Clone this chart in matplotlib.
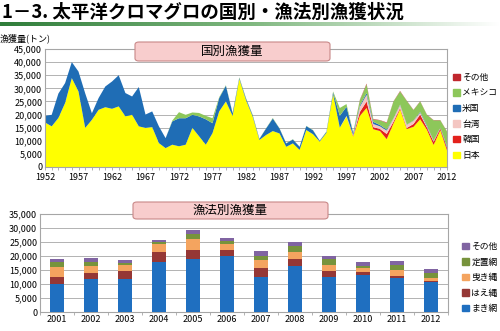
import numpy as np
import matplotlib
matplotlib.use('Agg')
import matplotlib.pyplot as plt
from matplotlib.patches import FancyBboxPatch, Patch
from matplotlib.ticker import MultipleLocator, FixedLocator, FuncFormatter

plt.rcParams['font.family'] = ['Noto Sans CJK JP', 'DejaVu Sans']

# --- data: catch by country (t) ---
years = list(range(1952, 2013))
japan = [17000, 15500, 18700, 24400, 33900, 28800, 14900, 18000, 21800, 22800,
         22200, 23100, 19300, 19900, 15500, 14900, 15200, 9100, 7200, 8500,
         7900, 8500, 14900, 11700, 8500, 12900, 21200, 25000, 19500, 33600,
         25500, 19200, 10300, 12200, 13700, 12800, 7700, 9000, 6500, 14100,
         12500, 9700, 13000, 27800, 15000, 19200, 11600, 19500, 22500, 14400,
         13700, 10600, 16500, 22000, 14500, 15300, 18200, 14200, 8400, 14000,
         6300]
korea = [0, 0, 0, 0, 0, 0, 0, 0, 0, 0,
         0, 0, 0, 0, 0, 0, 0, 0, 0, 0,
         0, 0, 0, 0, 0, 0, 0, 0, 0, 0,
         0, 0, 0, 0, 0, 0, 0, 0, 0, 0,
         0, 0, 0, 0, 0, 0, 300, 1500, 2500, 800,
         800, 2000, 700, 500, 400, 1100, 1800, 900, 1200, 700,
         1000]
taiwan = [0, 0, 0, 0, 0, 0, 0, 0, 0, 0,
          0, 0, 0, 0, 0, 0, 0, 0, 0, 0,
          0, 0, 0, 0, 0, 0, 0, 0, 0, 0,
          0, 0, 0, 0, 0, 0, 0, 0, 0, 0,
          0, 0, 0, 0, 0, 300, 300, 2000, 2500, 1200,
          1000, 1300, 1200, 1100, 1200, 1200, 700, 400, 300, 200,
          200]
usa = [2500, 4400, 9300, 7600, 6100, 7600, 13200, 2500, 4500, 7900,
       10400, 11900, 8900, 7000, 15000, 5100, 6000, 6400, 3800, 8900,
       10700, 10100, 5000, 7600, 9700, 3800, 5100, 6000, 1000, 400,
       600, 500, 400, 2500, 4800, 1900, 1300, 1500, 1200, 1500,
       1500, 300, 400, 700, 4500, 3500, 700, 500, 700, 800,
       500, 400, 100, 200, 100, 100, 300, 400, 100, 100,
       500]
mexico = [0, 0, 0, 0, 0, 0, 0, 0, 0, 0,
          0, 0, 0, 0, 0, 0, 0, 0, 0, 300,
          2300, 1300, 900, 1300, 1300, 1900, 300, 200, 200, 200,
          200, 200, 100, 100, 200, 100, 100, 100, 100, 100,
          100, 100, 100, 300, 3000, 1000, 300, 2000, 3300, 900,
          1800, 2500, 6400, 5000, 9000, 4000, 4000, 4000, 7800, 2800,
          5500]
other = [0, 0, 0, 0, 0, 0, 0, 0, 0, 0,
         0, 0, 0, 0, 0, 0, 0, 0, 0, 0,
         0, 0, 0, 0, 0, 0, 0, 0, 0, 0,
         0, 0, 0, 0, 0, 0, 0, 0, 0, 0,
         0, 0, 0, 0, 0, 0, 0, 200, 300, 200,
         100, 200, 100, 200, 100, 100, 100, 100, 100, 100,
         100]
country_labels = ['日本', '韓国', '台湾', '米国', 'メキシコ', 'その他']
country_colors = ['#FFFF00', '#E3211C', '#F4C6C2', '#1F6DB5', '#8DC75A', '#C0272D']
year_ticks = [1952, 1957, 1962, 1967, 1972, 1977, 1982, 1987, 1992, 1997, 2002, 2007, 2012]

# --- data: catch by gear (t) ---
gear_years = ['2001', '2002', '2003', '2004', '2005', '2006',
              '2007', '2008', '2009', '2010', '2011', '2012']
purse_seine = [9900, 11700, 11700, 18000, 18900, 20100, 12400, 16600, 12400, 13200, 12000, 10600]
longline = [2500, 2400, 3100, 3600, 3200, 2000, 3400, 2400, 2200, 1100, 1000, 600]
troll = [3600, 2400, 2000, 2600, 3900, 2200, 2700, 2300, 2200, 1400, 2000, 1100]
set_net = [1700, 1300, 800, 700, 1700, 1200, 1400, 2400, 2000, 800, 1800, 1500]
gear_other = [1300, 1400, 1000, 800, 1600, 800, 1800, 1400, 1200, 1400, 1500, 1600]
gear_labels = ['まき網', 'はえ縄', '曳き縄', '定置網', 'その他']
gear_colors = ['#1F6FC0', '#953735', '#F4A45F', '#77933C', '#8064A2']

GRID = '#A6A6A6'
thousands = FuncFormatter(lambda v, p: f'{int(v):,}')

fig = plt.figure(figsize=(5.0, 3.31), dpi=100)

# title + green gradient rule
fig.text(0.004, 0.962, '1－3. 太平洋クロマグロの国別・漁法別漁獲状況',
         fontsize=13.3, fontweight='bold', va='center', ha='left')
gax = fig.add_axes([0, 1 - 26 / 331, 1, 4 / 331])
grad = np.linspace(0, 1, 256).reshape(1, -1)
cmap = matplotlib.colors.LinearSegmentedColormap.from_list('g', ['#2F7D3A', '#7FB77F', '#FFFFFF'])
gax.imshow(grad, aspect='auto', cmap=cmap)
gax.axis('off')


def style_axes(ax):
    for s in ax.spines.values():
        s.set_color(GRID)
        s.set_linewidth(0.8)
    ax.grid(axis='y', color=GRID, linewidth=0.6)
    ax.set_axisbelow(True)
    ax.tick_params(axis='both', labelsize=6.5, length=2.5, width=0.6, color=GRID, pad=2)
    ax.yaxis.set_major_formatter(thousands)
    ax.tick_params(axis='y', length=0)


def title_box(x, y, w, h, text):
    box = FancyBboxPatch((x / 500, 1 - (y + h) / 331), w / 500, h / 331,
                         boxstyle='round,pad=0,rounding_size=0.008',
                         transform=fig.transFigure, facecolor='#F8CDCD',
                         edgecolor='#C98888', linewidth=0.8, zorder=5)
    fig.patches.append(box)
    fig.text((x + w / 2) / 500, 1 - (y + h / 2) / 331, text, fontsize=9,
             ha='center', va='center', zorder=6)


# --- top: stacked area by country ---
ax1 = fig.add_axes([45 / 500, 1 - 167 / 331, 402 / 500, 118 / 331])
ax1.stackplot(years, japan, korea, taiwan, usa, mexico, other,
              colors=country_colors, labels=country_labels, linewidth=0)
ax1.set_xlim(1952, 2012)
ax1.set_ylim(0, 45000)
ax1.yaxis.set_major_locator(MultipleLocator(5000))
ax1.xaxis.set_major_locator(FixedLocator(year_ticks))
ax1.xaxis.set_minor_locator(MultipleLocator(1))
style_axes(ax1)
ax1.tick_params(axis='x', which='minor', length=2.5, width=0.6, color=GRID)
fig.text(0.0, 1 - 38 / 331, '漁獲量(トン)', fontsize=6.5, ha='left', va='center')

h1 = [Patch(color=c) for c in country_colors][::-1]
fig.legend(h1, country_labels[::-1], loc='upper left', bbox_to_anchor=(0.906, 1 - 73 / 331),
           frameon=False, fontsize=6.3, handlelength=0.75, handleheight=0.75,
           handletextpad=0.3, labelspacing=0.75, borderpad=0, borderaxespad=0)
title_box(135, 42, 195, 19, '国別漁獲量')

# --- bottom: stacked bars by gear ---
ax2 = fig.add_axes([40 / 500, 1 - 312 / 331, 408 / 500, 98 / 331])
x = np.arange(len(gear_years))
bottom = np.zeros(len(gear_years))
for vals, lab, col in zip([purse_seine, longline, troll, set_net, gear_other], gear_labels, gear_colors):
    ax2.bar(x, vals, width=0.42, bottom=bottom, color=col, label=lab, zorder=3)
    bottom += np.array(vals)
ax2.set_xlim(-0.5, len(gear_years) - 0.5)
ax2.set_ylim(0, 35000)
ax2.yaxis.set_major_locator(MultipleLocator(5000))
ax2.set_xticks(x)
ax2.set_xticklabels(gear_years)
ax2.set_xticks(np.arange(-0.5, len(gear_years)), minor=True)
style_axes(ax2)
ax2.tick_params(axis='x', which='major', length=0)
ax2.tick_params(axis='x', which='minor', length=2.5, width=0.6, color=GRID)

h2 = [Patch(color=c) for c in gear_colors][::-1]
fig.legend(h2, gear_labels[::-1], loc='upper left', bbox_to_anchor=(0.924, 1 - 242 / 331),
           frameon=False, fontsize=6.3, handlelength=0.75, handleheight=0.75,
           handletextpad=0.3, labelspacing=0.75, borderpad=0, borderaxespad=0)
title_box(133, 202, 195, 17, '漁法別漁獲量')

fig.savefig('out.png', dpi=100)
